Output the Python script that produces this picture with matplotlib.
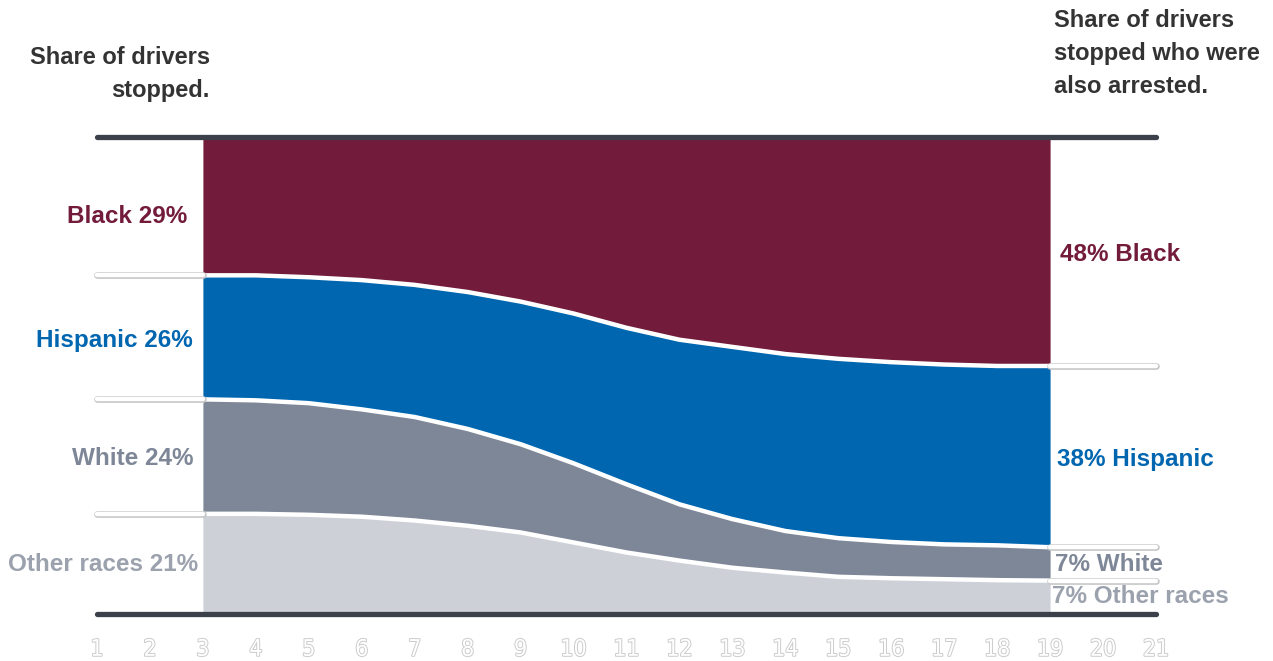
import matplotlib
matplotlib.use("Agg")
import matplotlib.pyplot as plt
import matplotlib.patheffects as pe
import numpy as np

# shares (%) of each group along the path, from "stopped" (x=3) to "arrested" (x=19)
steps = list(range(3, 20))
black = [29, 29, 29.4, 30, 31, 32.5, 34.5, 37, 40, 42.5, 44, 45.5, 46.5, 47.2, 47.7, 48, 48]
hispanic = [26, 26.2, 26.4, 27.1, 27.7, 28.7, 29.9, 31.4, 32.8, 34.5, 36.1, 37.1, 37.6, 37.7, 37.7, 37.6, 38]
white = [24, 23.8, 23.4, 22.5, 21.7, 20.3, 18.5, 16.6, 14.3, 11.8, 10.2, 8.7, 8.1, 7.6, 7.3, 7.3, 7]
other = [21, 21, 20.8, 20.4, 19.6, 18.5, 17.1, 15, 12.9, 11.2, 9.7, 8.7, 7.8, 7.5, 7.3, 7.1, 7]

groups = ["Other races", "White", "Hispanic", "Black"]
colors = ["#cdd0d7", "#7e8797", "#0066b0", "#731b3a"]
label_colors = ["#9ba2ae", "#7e8797", "#0066b0", "#731b3a"]
tick_values = list(range(1, 22))

FONT = ["Liberation Sans", "DejaVu Sans"]

fig = plt.figure(figsize=(12.73, 6.61), dpi=100)
ax = fig.add_axes([0, 0, 1, 1])
ax.set_xlim(-0.832, 23.21)
ax.set_ylim(-9.85, 128.72)
ax.axis("off")

x = np.array(steps)
series = [np.array(other), np.array(white), np.array(hispanic), np.array(black)]
base = np.zeros(len(steps))
bounds = []
for vals, col in zip(series, colors):
    top = base + vals
    ax.fill_between(x, base, top, color=col, linewidth=0, zorder=1)
    bounds.append(top)
    base = top

# white separators between bands
for b in bounds[:-1]:
    ax.plot(x, b, color="white", lw=3.2, zorder=2, solid_capstyle="butt")

# short stubs outside the flow at each boundary
stub_fx = [pe.Stroke(linewidth=4.8, foreground="#c6c6c6"), pe.Normal()]
for b in bounds[:-1]:
    ax.plot([1, 3], [b[0], b[0]], color="white", lw=3.2, zorder=3,
            solid_capstyle="round", path_effects=stub_fx)
    ax.plot([19, 21], [b[-1], b[-1]], color="white", lw=3.2, zorder=3,
            solid_capstyle="round", path_effects=stub_fx)

# top and bottom rails
for yv in (0, 100):
    ax.plot([1, 21], [yv, yv], color="#3b404b", lw=3.8, zorder=4,
            solid_capstyle="round")

# outlined step numbers
for t in tick_values:
    ax.text(t, -7.4, str(t), ha="center", va="center", fontsize=16.5,
            color="white", family="DejaVu Sans", fontstretch="condensed", zorder=5,
            path_effects=[pe.withStroke(linewidth=1.4, foreground="#cccccc")])

# left labels (drivers stopped)
left_pos = [(2.91, 10.3), (2.83, 32.7), (2.81, 57.4), (2.70, 83.4)]
for i, g in enumerate(groups):
    lx, ly = left_pos[i]
    ax.text(lx, ly, f"{g} {series[i][0]:g}%", ha="right", va="center",
            fontsize=17.5, fontweight="bold", color=label_colors[i], family=FONT)

# right labels (drivers arrested)
right_pos = [(19.04, 3.6), (19.09, 10.3), (19.13, 32.3), (19.19, 75.3)]
for i, g in enumerate(groups):
    rx, ry = right_pos[i]
    ax.text(rx, ry, f"{series[i][-1]:g}% {g}", ha="left", va="center",
            fontsize=17.5, fontweight="bold", color=label_colors[i], family=FONT)

# column headings
ax.text(3.13, 119.0, "Share of drivers\nstopped.", ha="right", va="top",
        fontsize=17, fontweight="bold", color="#333333", linespacing=1.55,
        family=FONT)
ax.text(19.07, 126.8, "Share of drivers\nstopped who were\nalso arrested.", ha="left",
        va="top", fontsize=17, fontweight="bold", color="#333333", linespacing=1.55,
        family=FONT)

fig.savefig("out.png", dpi=100)
